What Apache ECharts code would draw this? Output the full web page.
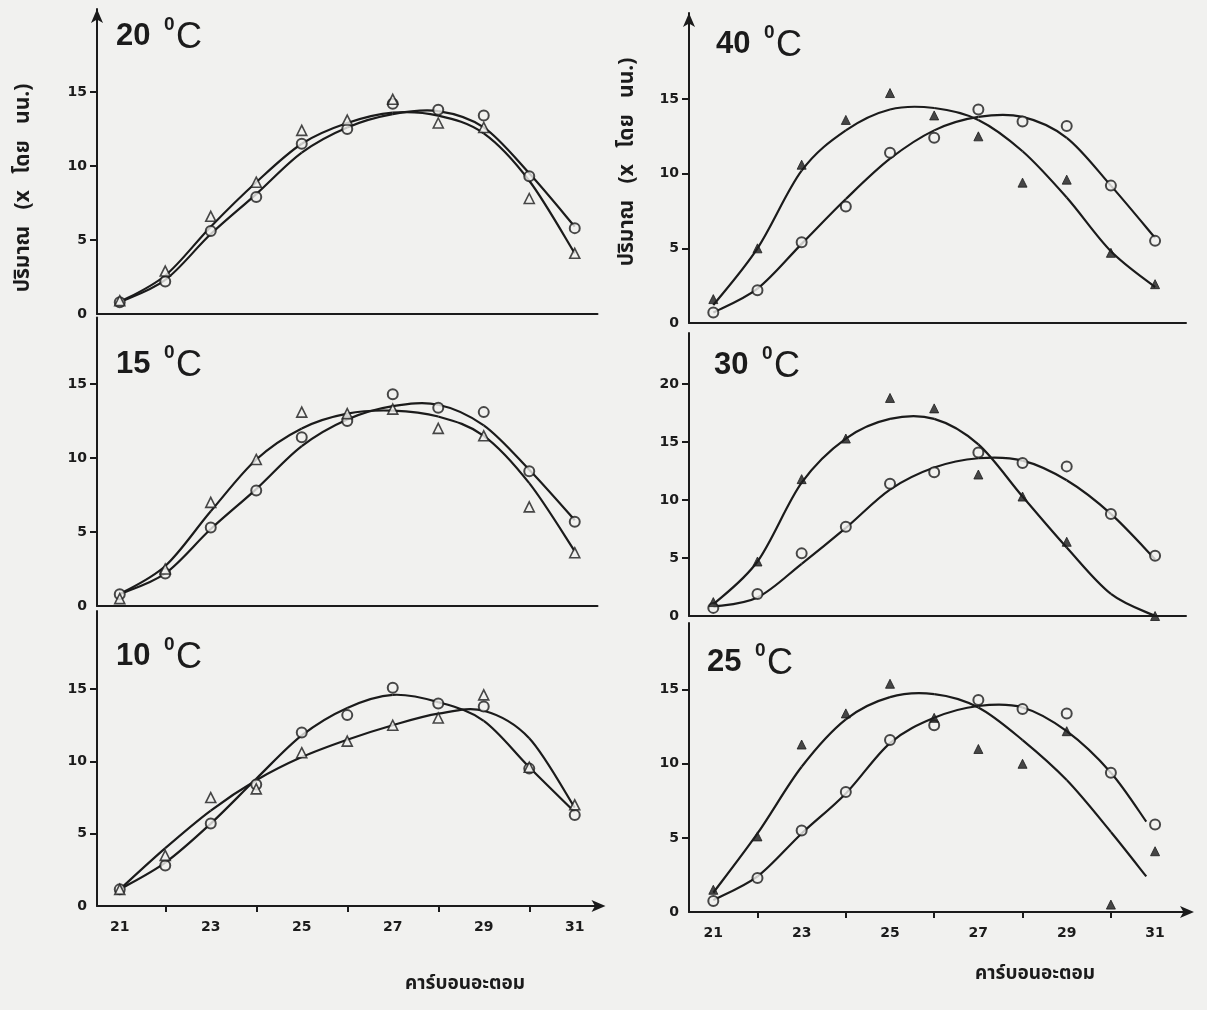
<!DOCTYPE html>
<html>
<head>
<meta charset="utf-8">
<script src="https://cdn.jsdelivr.net/npm/echarts@6/dist/echarts.min.js"></script>
<style>
html,body{margin:0;padding:0;background:#f1f1ef;}
#chart{width:1207px;height:1010px;}
</style>
</head>
<body>
<div id="chart"></div>
<script>
// ---------------- DATA ----------------
const carbonAtoms = [21, 22, 23, 24, 25, 26, 27, 28, 29, 30, 31];
const xTickLabels = [21, 23, 25, 27, 29, 31];
const xTickMarks = [22, 24, 26, 28, 30];
const yTickLabels = [0, 5, 10, 15];
const yTickLabels30 = [0, 5, 10, 15, 20];
const panelTitles = ['20', '15', '10', '40', '30', '25'];

// 20 °C
const circle20 = [0.8, 2.2, 5.6, 7.9, 11.5, 12.5, 14.2, 13.8, 13.4, 9.3, 5.8];
const tri20    = [0.9, 2.9, 6.6, 8.9, 12.4, 13.1, 14.5, 12.9, 12.6, 7.8, 4.1];
const fitC20   = [0.8, 2.3, 5.4, 8.1, 10.9, 12.6, 13.5, 13.7, 12.6, 9.5, 5.9];
const fitT20   = [0.8, 2.6, 5.9, 8.9, 11.5, 12.9, 13.6, 13.4, 12.2, 9.0, 4.1];
// 15 °C
const circle15 = [0.8, 2.2, 5.3, 7.8, 11.4, 12.5, 14.3, 13.4, 13.1, 9.1, 5.7];
const tri15    = [0.5, 2.5, 7.0, 9.9, 13.1, 13.0, 13.3, 12.0, 11.5, 6.7, 3.6];
const fitC15   = [0.8, 2.2, 5.2, 7.9, 10.8, 12.6, 13.5, 13.6, 12.2, 9.2, 5.8];
const fitT15   = [0.8, 2.7, 6.4, 9.9, 12.0, 13.0, 13.2, 12.8, 11.5, 8.3, 3.7];
// 10 °C
const circle10 = [1.15, 2.8, 5.7, 8.4, 12.0, 13.2, 15.1, 14.0, 13.8, 9.5, 6.3];
const tri10    = [1.15, 3.5, 7.5, 8.1, 10.6, 11.4, 12.5, 13.0, 14.6, 9.6, 7.0];
const fitC10   = [1.15, 3.0, 5.7, 8.8, 11.8, 13.7, 14.6, 14.1, 12.8, 9.6, 6.5];
const fitT10   = [1.15, 4.0, 6.6, 8.7, 10.3, 11.5, 12.5, 13.3, 13.5, 11.6, 6.8];
// 40 °C
const circle40 = [0.7, 2.2, 5.4, 7.8, 11.4, 12.4, 14.3, 13.5, 13.2, 9.2, 5.5];
const tri40    = [1.6, 5.0, 10.6, 13.6, 15.4, 13.9, 12.5, 9.4, 9.6, 4.7, 2.6];
const fitC40   = [0.7, 2.3, 5.3, 8.3, 11.0, 12.9, 13.8, 13.8, 12.4, 9.2, 5.7];
const fitT40   = [1.2, 5.0, 10.2, 12.9, 14.3, 14.4, 13.6, 11.5, 8.4, 4.8, 2.4];
// 30 °C
const circle30 = [0.7, 1.9, 5.4, 7.7, 11.4, 12.4, 14.1, 13.2, 12.9, 8.8, 5.2];
const tri30    = [1.2, 4.7, 11.8, 15.3, 18.8, 17.9, 12.2, 10.3, 6.4, null, 0.0];
const fitC30   = [0.8, 1.6, 4.5, 7.6, 10.9, 12.8, 13.6, 13.4, 11.7, 8.8, 4.9];
const fitT30   = [1.0, 4.7, 11.5, 15.3, 17.0, 17.0, 14.8, 10.3, 5.9, 1.9, 0.0];
// 25 °C
const circle25 = [0.74, 2.3, 5.5, 8.1, 11.6, 12.6, 14.3, 13.7, 13.4, 9.4, 5.9];
const tri25    = [1.5, 5.1, 11.3, 13.4, 15.4, 13.1, 11.0, 10.0, 12.2, 0.5, 4.1];
const fitC25   = [0.8, 2.4, 5.3, 8.0, 11.4, 13.1, 13.9, 13.8, 12.2, 9.4, 6.1];
const fitT25x  = [21, 22, 23, 24, 25, 26, 27, 28, 29, 30, 30.8];
const fitT25   = [1.3, 5.3, 9.8, 13.0, 14.5, 14.7, 13.8, 11.6, 8.9, 5.4, 2.4];

const yName = 'ปริมาณ   (x   โดย   นน.)';
const xName = 'คาร์บอนอะตอม';

// ---------------- LAYOUT ----------------
const ink = '#1b1b1b';
const bg = '#f1f1ef';
const thaiFont = '"Noto Sans Thai","Noto Sans Thai Looped","Loma","Garuda","Norasi","Waree","Tlwg Typo","Kinnari","Noto Sans","DejaVu Sans",sans-serif';
const numFont = '"DejaVu Sans","Liberation Sans",sans-serif';
const titleFont = '"Liberation Sans",Arial,sans-serif';

const panels = [
  {title: panelTitles[0], circ: circle20, tri: tri20, fc: fitC20, ft: fitT20, ftx: carbonAtoms,
   grid: {left: 97, top: 9, width: 500.5, height: 305}, xMin: 20.5, xMax: 31.5, yMax: 20.6,
   bottom: false, arrowY: true, filled: false, titlePos: [116, 36], yl: yTickLabels},
  {title: panelTitles[1], circ: circle15, tri: tri15, fc: fitC15, ft: fitT15, ftx: carbonAtoms,
   grid: {left: 97, top: 317.4, width: 500.5, height: 288.6}, xMin: 20.5, xMax: 31.5, yMax: 19.5,
   bottom: false, arrowY: false, filled: false, titlePos: [116, 364], yl: yTickLabels},
  {title: panelTitles[2], circ: circle10, tri: tri10, fc: fitC10, ft: fitT10, ftx: carbonAtoms,
   grid: {left: 97, top: 611, width: 500.5, height: 295}, xMin: 20.5, xMax: 31.5, yMax: 20.4,
   bottom: true, arrowY: false, filled: false, titlePos: [116, 656], yl: yTickLabels},
  {title: panelTitles[3], circ: circle40, tri: tri40, fc: fitC40, ft: fitT40, ftx: carbonAtoms,
   grid: {left: 689, top: 13, width: 497, height: 310}, xMin: 20.45, xMax: 31.7, yMax: 20.76,
   bottom: false, arrowY: true, filled: true, titlePos: [716, 44], yl: yTickLabels},
  {title: panelTitles[4], circ: circle30, tri: tri30, fc: fitC30, ft: fitT30, ftx: carbonAtoms,
   grid: {left: 689, top: 333, width: 497, height: 283}, xMin: 20.45, xMax: 31.7, yMax: 24.4,
   bottom: false, arrowY: false, filled: true, titlePos: [714, 365], yl: yTickLabels30},
  {title: panelTitles[5], circ: circle25, tri: tri25, fc: fitC25, ft: fitT25, ftx: fitT25x,
   grid: {left: 689, top: 623, width: 497, height: 289}, xMin: 20.45, xMax: 31.7, yMax: 19.5,
   bottom: true, arrowY: false, filled: true, titlePos: [707, 662], yl: yTickLabels},
];

const pairs = (xs, ys) => xs.map((x, i) => [x, ys[i]]).filter(p => p[1] !== null);

// smooth fitted curve drawn through the axes' own coordinate conversion (Catmull-Rom -> Bezier)
function curveSeries(gi, xs, ys) {
  const pts = pairs(xs, ys);
  return {
    type: 'custom', xAxisIndex: gi, yAxisIndex: gi, data: pts, silent: true, z: 2,
    clip: false,
    renderItem: function (params, api) {
      if (params.dataIndex !== 0) return null;
      const P = pts.map(p => api.coord(p));
      const children = [];
      const t = 1 / 6;
      for (let k = 0; k < P.length - 1; k++) {
        const p0 = P[k - 1] || P[k], p1 = P[k], p2 = P[k + 1], p3 = P[k + 2] || P[k + 1];
        children.push({
          type: 'bezierCurve',
          shape: {
            x1: p1[0], y1: p1[1], x2: p2[0], y2: p2[1],
            cpx1: p1[0] + (p2[0] - p0[0]) * t, cpy1: p1[1] + (p2[1] - p0[1]) * t,
            cpx2: p2[0] - (p3[0] - p1[0]) * t, cpy2: p2[1] - (p3[1] - p1[1]) * t
          },
          style: {fill: null, stroke: ink, lineWidth: 2.2}
        });
      }
      return {type: 'group', children: children};
    }
  };
}

const grids = [], xAxes = [], yAxes = [], series = [], graphics = [];
panels.forEach((p, i) => {
  grids.push(p.grid);
  xAxes.push({
    type: 'value', gridIndex: i, min: p.xMin, max: p.xMax,
    axisLine: {show: true, onZero: false, lineStyle: {color: ink, width: 2},
               symbol: p.bottom ? ['none', 'arrow'] : ['none', 'none'], symbolSize: [9, 14], symbolOffset: [0, 8]},
    axisTick: {show: p.bottom, customValues: xTickMarks, length: 6, lineStyle: {color: ink, width: 2}},
    axisLabel: {show: p.bottom, customValues: xTickLabels, color: ink, fontFamily: numFont,
                fontWeight: 'bold', fontSize: 14, margin: 14},
    splitLine: {show: false}
  });
  yAxes.push({
    type: 'value', gridIndex: i, min: 0, max: p.yMax,
    axisLine: {show: true, lineStyle: {color: ink, width: 2},
               symbol: p.arrowY ? ['none', 'arrow'] : ['none', 'none'], symbolSize: [9, 14]},
    axisTick: {show: true, customValues: p.yl.filter(v => v > 0), length: 7, lineStyle: {color: ink, width: 2}},
    axisLabel: {customValues: p.yl, color: ink, fontFamily: numFont, fontWeight: 'bold', fontSize: 14, margin: 10},
    splitLine: {show: false}
  });
  series.push(curveSeries(i, p.ftx, p.fc));
  series.push(curveSeries(i, p.ftx, p.ft));
  series.push({
    type: 'scatter', xAxisIndex: i, yAxisIndex: i, data: pairs(carbonAtoms, p.circ),
    symbol: 'circle', symbolSize: 10,
    itemStyle: {color: bg, borderColor: ink, borderWidth: 2}, z: 3
  });
  series.push({
    type: 'scatter', xAxisIndex: i, yAxisIndex: i, data: pairs(carbonAtoms, p.tri),
    symbol: 'triangle', symbolSize: p.filled ? 9 : 10,
    itemStyle: {color: p.filled ? ink : bg, borderColor: ink, borderWidth: p.filled ? 1 : 1.6}, z: 4
  });
  // panel title: "20" + small raised "0" + "C"
  const [tx, ty] = p.titlePos;
  graphics.push({type: 'text', x: tx, y: ty,
    style: {text: p.title, fontFamily: titleFont, fontWeight: 'bold', fontSize: 31, fill: ink,
            align: 'left', verticalAlign: 'middle'}});
  graphics.push({type: 'text', x: tx + 48, y: ty - 11,
    style: {text: '0', fontFamily: titleFont, fontWeight: 'bold', fontSize: 19, fill: ink,
            align: 'left', verticalAlign: 'middle'}});
  graphics.push({type: 'text', x: tx + 60, y: ty + 2,
    style: {text: 'C', fontFamily: titleFont, fontWeight: 'normal', fontSize: 36, fill: ink,
            align: 'left', verticalAlign: 'middle'}});
});

// axis names
[[25, 188], [629, 162]].forEach(pos => {
  graphics.push({
    type: 'text', x: pos[0], y: pos[1], rotation: Math.PI / 2,
    style: {text: yName, fontFamily: thaiFont, fontWeight: 'bold', fontSize: 21, fill: ink,
            align: 'center', verticalAlign: 'middle'}
  });
});
[[465, 985], [1035, 975]].forEach(pos => {
  graphics.push({
    type: 'text', x: pos[0], y: pos[1],
    style: {text: xName, fontFamily: thaiFont, fontWeight: 'bold', fontSize: 19, fill: ink,
            align: 'center', verticalAlign: 'middle'}
  });
});

const chart = echarts.init(document.getElementById('chart'), null, {renderer: 'canvas'});
chart.setOption({
  backgroundColor: bg,
  animation: false,
  grid: grids,
  xAxis: xAxes,
  yAxis: yAxes,
  series: series,
  graphic: graphics
});
</script>
</body>
</html>
